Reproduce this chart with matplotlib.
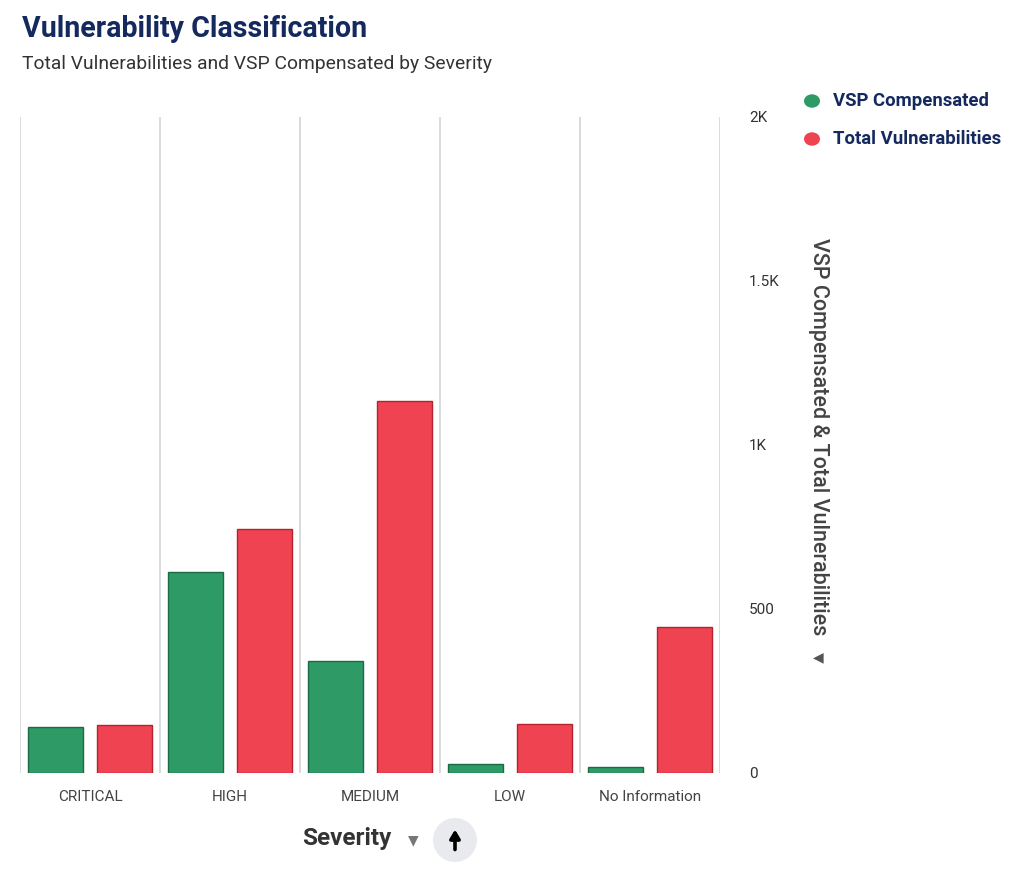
import matplotlib.pyplot as plt
import numpy as np
from matplotlib.patches import Circle

plt.rcParams['font.family'] = ['Roboto', 'DejaVu Sans']

# data
categories = ['CRITICAL', 'HIGH', 'MEDIUM', 'LOW', 'No Information']
vsp_compensated = [140, 613, 341, 27, 18]
total_vulns = [146, 744, 1134, 149, 445]
y_ticks = [0, 500, 1000, 1500, 2000]
y_tick_labels = ['0', '500', '1K', '1.5K', '2K']

GREEN = '#2e9a66'
RED = '#ef4352'
NAVY = '#14295e'

W, H = 1036, 869
fig = plt.figure(figsize=(W / 100, H / 100), dpi=100)
ax = fig.add_axes([20 / W, 1 - 773 / H, 700 / W, 656 / H])

x = np.arange(len(categories))
bw = 0.39
ax.bar(x - 0.245, vsp_compensated, width=bw, color=GREEN, edgecolor='#1d6b45', linewidth=1, zorder=3)
ax.bar(x + 0.245, total_vulns, width=bw, color=RED, edgecolor='#b3222e', linewidth=1, zorder=3)

ax.set_xlim(-0.5, len(categories) - 0.5)
ax.set_ylim(0, 2000)
for b in np.arange(-0.5, len(categories), 1.0):
    ax.axvline(b, color='#d4d4d4', linewidth=1.2, zorder=1)

for s in ax.spines.values():
    s.set_visible(False)

ax.set_xticks(x)
ax.set_xticklabels(categories, fontsize=11, color='#444444')
ax.tick_params(axis='x', length=0, pad=12)

ax.yaxis.tick_right()
ax.set_yticks(y_ticks)
ax.set_yticklabels(y_tick_labels, fontsize=11, color='#333333')
ax.tick_params(axis='y', length=0, pad=21)

# right axis title with small sort arrow
fig.text(818 / W, 1 - 437 / H, 'VSP Compensated & Total Vulnerabilities', rotation=270,
         ha='center', va='center', fontsize=15.5, fontweight='medium', color='#444444')
fig.text(818 / W, 1 - 657 / H, '\u25C0', ha='center', va='center', fontsize=10, color='#555555',
         family=['DejaVu Sans'])

# titles
fig.text(22 / W, 1 - 29 / H, 'Vulnerability Classification', ha='left', va='center',
         fontsize=20.6, fontweight='bold', color=NAVY)
fig.text(22 / W, 1 - 64 / H, 'Total Vulnerabilities and VSP Compensated by Severity', ha='left',
         va='center', fontsize=13.9, color='#333333')

# legend
for yy, col, lab in [(101, GREEN, 'VSP Compensated'), (139, RED, 'Total Vulnerabilities')]:
    fig.patches.append(Circle((812 / W, 1 - yy / H), 8 / W, transform=fig.transFigure,
                              facecolor=col, edgecolor='none'))
    fig.text(833 / W, 1 - yy / H, lab, ha='left', va='center', fontsize=13.3,
             fontweight='bold', color=NAVY)

# x axis title with sort controls
fig.text(347 / W, 1 - 838 / H, 'Severity', ha='center', va='center', fontsize=17.5,
         fontweight='bold', color='#333333')
fig.text(413 / W, 1 - 840 / H, '\u25BC', ha='center', va='center', fontsize=10, color='#777777',
         family=['DejaVu Sans'])
ax_btn = fig.add_axes([433 / W, 1 - 862 / H, 44 / W, 44 / H])
ax_btn.set_zorder(5)
ax_btn.set_xlim(0, 1)
ax_btn.set_ylim(0, 1)
ax_btn.set_aspect('equal')
ax_btn.axis('off')
ax_btn.add_patch(Circle((0.5, 0.5), 0.5, facecolor='#e8eaed', edgecolor='none'))
ax_btn.annotate('', xy=(0.5, 0.8), xytext=(0.5, 0.22),
                arrowprops=dict(arrowstyle='-|>,head_width=0.3,head_length=0.5',
                                color='black', linewidth=2.6))

fig.savefig('out.png', dpi=100, facecolor='white')
